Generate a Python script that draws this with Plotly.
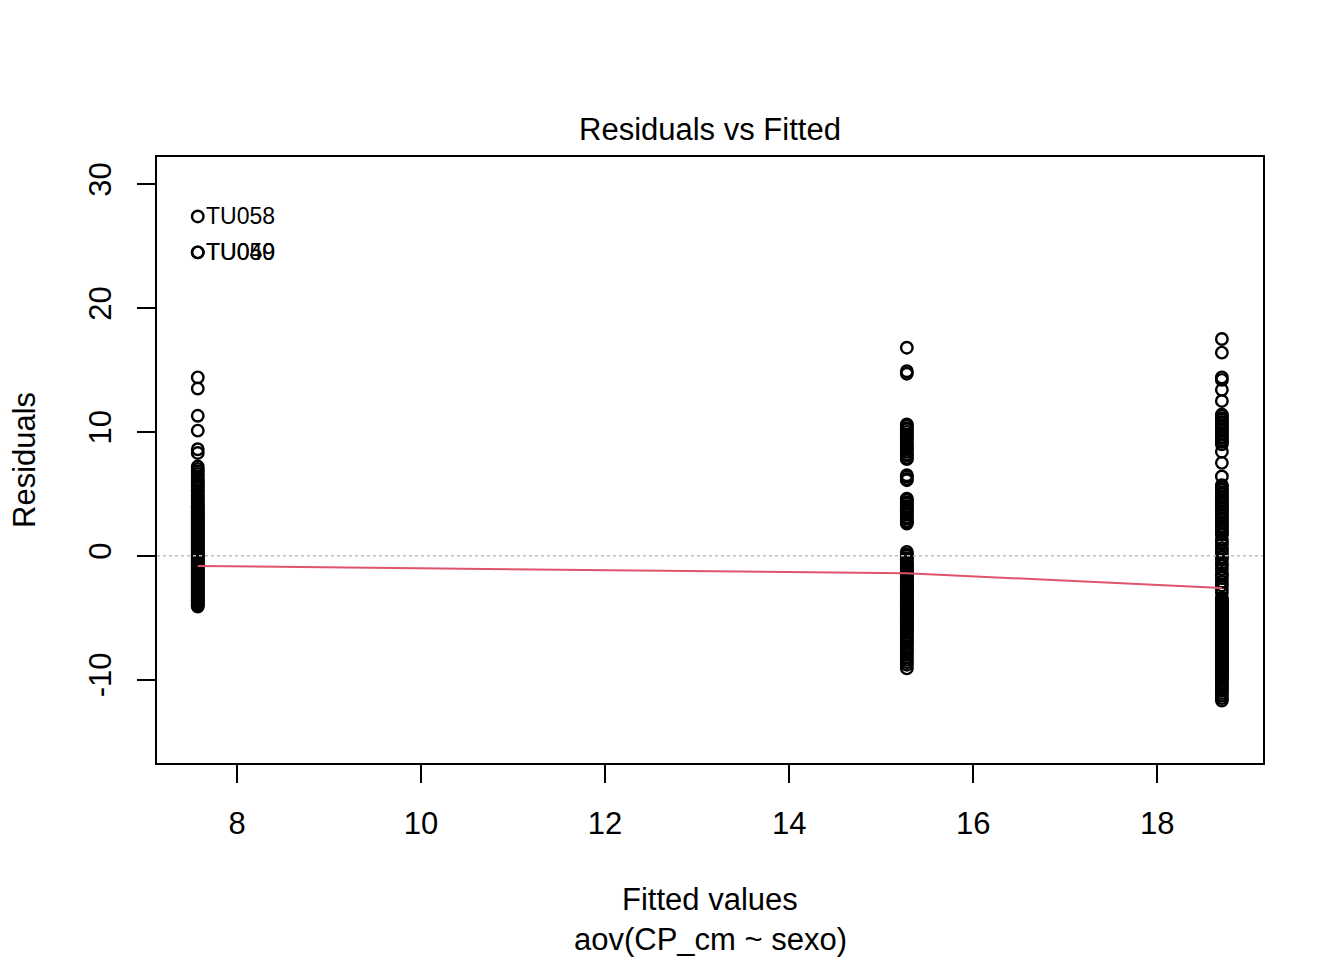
import plotly.graph_objects as go

# fitted values (one per group, aov with a single factor)
fit_levels = [7.573, 15.279, 18.703]

# residuals, one list per group
res_g1 = [27.4, 24.5, 24.5, 14.4, 13.5, 11.3, 10.1, 8.6, 8.3, 7.2, 7.0, 6.8, 6.6, 6.4,
          6.2, 6.1, 5.9, 5.8, 5.6, 5.5, 5.3, 5.2, 5.0, 4.9, 4.8, 4.6, 4.5, 4.4, 4.2,
          4.1, 4.0, 3.9, 3.8, 3.6, 3.5, 3.4, 3.3, 3.2, 3.1, 3.0, 2.9, 2.8, 2.7, 2.6,
          2.5, 2.4, 2.3, 2.2, 2.1, 2.0, 1.9, 1.8, 1.7, 1.6, 1.5, 1.4, 1.3, 1.2, 1.1,
          1.0, 0.9, 0.8, 0.7, 0.6, 0.5, 0.4, 0.3, 0.2, 0.1, 0.0, -0.1, -0.2, -0.3,
          -0.4, -0.5, -0.6, -0.7, -0.8, -0.9, -1.0, -1.1, -1.2, -1.3, -1.4, -1.5, -1.6,
          -1.7, -1.8, -1.9, -2.0, -2.1, -2.2, -2.3, -2.4, -2.5, -2.6, -2.7, -2.8, -2.9,
          -3.0, -3.1, -3.2, -3.3, -3.4, -3.5, -3.6, -3.7, -3.8, -3.9, -4.0, -4.1]
res_g2 = [16.8, 14.9, 14.7, 10.6, 10.5, 10.3, 10.2, 10.0, 9.8, 9.7, 9.5, 9.4, 9.2, 9.0,
          8.9, 8.7, 8.6, 8.4, 8.2, 8.1, 7.9, 7.8, 6.5, 6.4, 6.2, 6.1, 4.6, 4.5, 4.3,
          4.2, 4.0, 3.9, 3.7, 3.6, 3.4, 3.3, 3.1, 3.0, 2.8, 2.7, 2.6, 0.3, 0.1, 0.0,
          -0.2, -0.3, -0.5, -0.6, -0.7, -0.8, -0.9, -1.0, -1.1, -1.2, -1.3, -1.4, -1.5,
          -1.6, -1.7, -1.8, -1.9, -2.0, -2.1, -2.2, -2.3, -2.4, -2.5, -2.6, -2.7, -2.8,
          -2.9, -3.0, -3.1, -3.2, -3.3, -3.4, -3.5, -3.6, -3.7, -3.8, -3.9, -4.0, -4.1,
          -4.2, -4.3, -4.4, -4.5, -4.6, -4.7, -4.8, -4.9, -5.0, -5.1, -5.2, -5.3, -5.4,
          -5.5, -5.6, -5.7, -5.8, -5.9, -6.0, -6.1, -6.2, -6.4, -6.5, -6.7, -6.8, -7.0,
          -7.1, -7.3, -7.5, -7.6, -7.8, -8.0, -8.2, -8.4, -8.6, -8.8, -9.1]
res_g3 = [17.5, 16.4, 14.4, 14.2, 13.4, 12.5, 11.4, 11.3, 11.1, 11.0, 10.8, 10.7, 10.5,
          10.4, 10.2, 10.1, 9.9, 9.8, 9.6, 9.5, 9.3, 9.2, 9.0, 8.4, 7.5, 6.4, 5.7, 5.6,
          5.4, 5.3, 5.1, 5.0, 4.8, 4.7, 4.5, 4.4, 4.2, 4.1, 3.9, 3.8, 3.6, 3.5, 3.3,
          3.2, 3.0, 2.9, 2.7, 2.6, 2.4, 2.3, 2.1, 2.0, 1.8, 1.7, 1.3, 1.1, 0.9, 0.6,
          0.4, 0.2, -0.1, -0.3, -0.6, -0.8, -1.1, -1.4, -1.6, -1.8, -2.1, -2.4, -2.7,
          -3.0, -3.4, -3.5, -3.6, -3.7, -3.8, -3.9, -4.0, -4.1, -4.2, -4.3, -4.4, -4.5,
          -4.6, -4.7, -4.8, -4.9, -5.0, -5.1, -5.2, -5.3, -5.4, -5.5, -5.6, -5.7, -5.8,
          -5.9, -6.0, -6.1, -6.2, -6.3, -6.4, -6.5, -6.6, -6.7, -6.8, -6.9, -7.0, -7.1,
          -7.2, -7.3, -7.4, -7.5, -7.6, -7.7, -7.8, -7.9, -8.0, -8.1, -8.2, -8.3, -8.4,
          -8.5, -8.6, -8.7, -8.8, -8.9, -9.0, -9.1, -9.2, -9.3, -9.4, -9.5, -9.6, -9.7,
          -9.8, -9.9, -10.0, -10.2, -10.3, -10.5, -10.6, -10.8, -10.9, -11.1, -11.3,
          -11.5, -11.7]

# lowess smoother (red line)
smooth_x = [7.573, 15.279, 18.703]
smooth_y = [-0.83, -1.42, -2.6]

# labelled extreme residuals
lab_x = [7.573, 7.573, 7.573]
lab_y = [27.4, 24.5, 24.5]
lab_txt = ["TU058", "TU049", "TU050"]

xticks = [8, 10, 12, 14, 16, 18]
yticks = [-10, 0, 10, 20, 30]
ytick_txt = ["-10", "0", "10", "20", "30"]

FONT = "Liberation Sans, Arial, sans-serif"
OFF = 8  # page body margin of the browser

fig = go.Figure()

for fv, res in zip(fit_levels, [res_g1, res_g2, res_g3]):
    fig.add_trace(go.Scatter(
        x=[fv] * len(res), y=res, mode="markers",
        marker=dict(symbol="circle-open", size=11.5, color="black",
                    line=dict(width=2.4, color="black")),
        showlegend=False, hoverinfo="x+y"))

fig.add_trace(go.Scatter(x=smooth_x, y=smooth_y, mode="lines",
                         line=dict(color="#DF536B", width=2), showlegend=False))

# dotted zero line
fig.add_shape(type="line", xref="paper", yref="y", x0=0, x1=1, y0=0, y1=0,
              line=dict(color="#BEBEBE", width=1.5, dash="dot"))

for x, y, t in zip(lab_x, lab_y, lab_txt):
    fig.add_annotation(x=x, y=y, text=t, showarrow=False, xanchor="left",
                       yanchor="middle", xshift=6,
                       font=dict(family=FONT, size=23, color="black"))

# page pixel -> paper coords (plot area spans 157..1263 x 157..763 on the page)
def paper_x(px):
    return (px - 157) / 1106

def paper_y(py):
    return (763 - py) / 606

texts = [
    ("Residuals vs Fitted", 710, 130, 0),
    ("Fitted values", 710, 900, 0),
    ("aov(CP_cm ~ sexo)", 710, 939, 0),
    ("Residuals", 24, 460, -90),
]
for t, px, py, ang in texts:
    fig.add_annotation(x=paper_x(px), y=paper_y(py), xref="paper", yref="paper",
                       text=t, showarrow=False, textangle=ang,
                       xanchor="center", yanchor="middle",
                       font=dict(family=FONT, size=31, color="black"))

fig.update_layout(
    width=1344 - OFF, height=960 - OFF,
    margin=dict(l=157 - OFF, r=81, t=157 - OFF, b=197, pad=0),
    plot_bgcolor="white", paper_bgcolor="white",
    font=dict(family=FONT, size=31, color="black"),
)
fig.update_xaxes(range=[7.13, 19.15], tickvals=xticks, ticks="outside", ticklen=18,
                 tickwidth=2, tickcolor="black", showline=True, mirror=True,
                 linecolor="black", linewidth=2, showgrid=False, zeroline=False,
                 ticklabelstandoff=14, tickfont=dict(family=FONT, size=31))
fig.update_yaxes(range=[-16.74, 32.2], tickvals=yticks, ticktext=ytick_txt,
                 ticks="outside", ticklen=18,
                 tickwidth=2, tickcolor="black", showline=True, mirror=True,
                 linecolor="black", linewidth=2, showgrid=False, zeroline=False,
                 tickangle=-90, ticklabelstandoff=14, tickfont=dict(family=FONT, size=31))

fig.write_html("out.html")
